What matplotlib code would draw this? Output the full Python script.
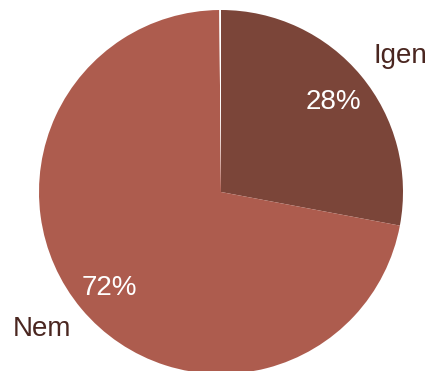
import numpy as np
import matplotlib.pyplot as plt

labels = ['Igen', 'Nem', '']
values = [28, 72, 0.15]
pct_labels = ['28%', '72%', '']
colors = ['#7B4539', '#AD5C4E', '#FFFFFF']

plt.rcParams['font.family'] = ['Liberation Sans', 'DejaVu Sans']

fig = plt.figure(figsize=(4.31, 3.71), dpi=100)
ax = fig.add_axes([0, 0, 1, 1])

wedges, _ = ax.pie(values, colors=colors, startangle=90,
                   counterclock=False, center=(221, 179), radius=182,
                   frame=True)
ax.set_xlim(0, 431)
ax.set_ylim(0, 371)
ax.set_aspect('equal')
ax.axis('off')

for w, lab, p in zip(wedges, labels, pct_labels):
    if not lab:
        continue
    mid = (w.theta1 + w.theta2) / 2
    # category name outside the pie, nudged a little clockwise
    a = np.deg2rad(mid - 2.5)
    ax.text(w.center[0] + 1.24 * w.r * np.cos(a),
            w.center[1] + 1.24 * w.r * np.sin(a),
            lab, ha='center', va='center', fontsize=20, color='#4A2620')
    # percentage inside the slice
    a = np.deg2rad(mid)
    ax.text(w.center[0] + 0.8 * w.r * np.cos(a),
            w.center[1] + 0.8 * w.r * np.sin(a) - 3,
            p, ha='center', va='center', fontsize=20, color='white')

fig.savefig('out.png', dpi=100)
